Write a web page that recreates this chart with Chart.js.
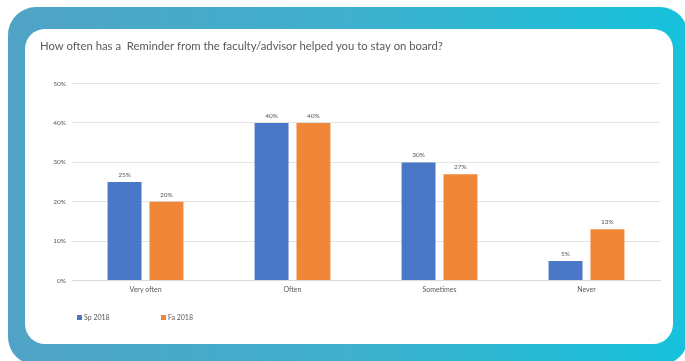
<!DOCTYPE html>
<html lang="en">
  <head>
    <meta charset="UTF-8" />
    <title>Reminder from faculty/advisor</title>
    <script src="https://cdn.jsdelivr.net/npm/chart.js@4.4.0/dist/chart.umd.min.js"></script>
    <style>
      html, body { margin: 0; padding: 0; background: #fff; width: 685px; height: 361px; overflow: hidden; }
      #frame {
        position: absolute; left: 8px; top: 7px; width: 680px; height: 358px;
        border-radius: 28px;
        background: linear-gradient(90deg, #50a3c6 0%, #3fb0cd 50%, #16c2dc 100%);
      }
      #card {
        position: absolute; left: 25px; top: 29px; width: 648px; height: 315px;
        background: #fff; border-radius: 20px;
      }
      #card canvas { position: absolute; left: 0; top: 0; }
      #legend {
        position: absolute; left: 52px; top: 283px; font: 7px Lato, "Liberation Sans", sans-serif; color: #595959;
      }
      #legend span { position: absolute; white-space: nowrap; top: 0; line-height: 10px; }
      #legend i { display: inline-block; width: 5px; height: 5px; margin-right: 2px; vertical-align: 0px; }
    </style>
  </head>
  <body>
    <div id="frame"></div>
    <div id="card">
      <canvas id="myChart" width="648" height="315"></canvas>
      <div id="legend"></div>
    </div>

    <script>
      // values (percent)
      const categories = ['Very often', 'Often', 'Sometimes', 'Never'];
      const sp2018 = [25, 40, 30, 5];
      const fa2018 = [20, 40, 27, 13];
      const yTicks = [0, 10, 20, 30, 40, 50];

      const FONT = 'Lato, "Liberation Sans", sans-serif';
      const GREY = '#595959';

      // little plugin to print the % above each bar
      const barLabels = {
        id: 'barLabels',
        afterDatasetsDraw(chart) {
          const ctx = chart.ctx;
          ctx.save();
          ctx.font = '6.5px ' + FONT;
          ctx.fillStyle = GREY;
          ctx.textAlign = 'center';
          ctx.textBaseline = 'bottom';
          chart.data.datasets.forEach((ds, i) => {
            chart.getDatasetMeta(i).data.forEach((bar, j) => {
              ctx.fillText(ds.data[j] + '%', bar.x, bar.y - 4);
            });
          });
          ctx.restore();
        }
      };

      const ctx = document.getElementById('myChart').getContext('2d');
      const myChart = new Chart(ctx, {
        type: 'bar',
        data: {
          labels: categories,
          datasets: [
            { label: 'Sp 2018', data: sp2018, backgroundColor: '#4a78c7' },
            { label: 'Fa 2018', data: fa2018, backgroundColor: '#ef8638' }
          ]
        },
        plugins: [barLabels],
        options: {
          responsive: false,
          animation: false,
          devicePixelRatio: 1,
          layout: { padding: { left: 15, right: 13, top: 0, bottom: 45 } },
          datasets: { bar: { categoryPercentage: 0.57, barPercentage: 0.81 } },
          plugins: {
            title: {
              display: true,
              text: 'How often has a  Reminder from the faculty/advisor helped you to stay on board?',
              align: 'start',
              color: GREY,
              font: { family: FONT, size: 11.3, weight: 'normal' },
              padding: { top: 11, bottom: 30 }
            },
            legend: { display: false },
            tooltip: { enabled: false }
          },
          scales: {
            x: {
              grid: { display: false, drawTicks: false },
              border: { color: '#d9d9d9' },
              ticks: { color: GREY, font: { family: FONT, size: 7 }, padding: 5 }
            },
            y: {
              min: 0, max: 50,
              afterBuildTicks: (s) => { s.ticks = yTicks.map(v => ({ value: v })); },
              afterFit: (s) => { s.width = 32; },
              grid: { color: '#e3e3e3', drawTicks: false },
              border: { display: false },
              ticks: {
                color: GREY, font: { family: FONT, size: 6.5 }, padding: 6,
                callback: (v) => v + '%'
              }
            }
          }
        }
      });

      // legend as plain html, spaced like the original
      const legendBox = document.getElementById('legend');
      myChart.data.datasets.forEach((ds, i) => {
        const item = document.createElement('span');
        item.style.left = (i * 84) + 'px';
        item.innerHTML = '<i style="background:' + ds.backgroundColor + '"></i>' + ds.label;
        legendBox.appendChild(item);
      });
    </script>
  </body>
</html>
